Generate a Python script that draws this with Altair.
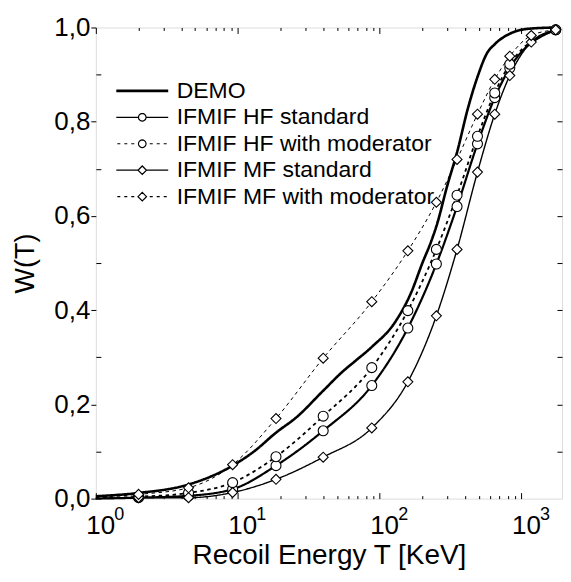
import math
import altair as alt
import pandas as pd

SERIES = ["DEMO", "IFMIF HF standard", "IFMIF HF with moderator",
          "IFMIF MF standard", "IFMIF MF with moderator"]

# DEMO curve (thick line, no markers)
DEMO_T = [1, 2, 4.5, 9.2, 13, 18.6, 26, 40, 55, 66, 88, 128, 167, 200, 230,
          251, 300, 351, 420, 489, 570, 650, 830, 1100, 1740]
DEMO_W = [0.005, 0.012, 0.030, 0.070, 0.100, 0.140, 0.173, 0.229, 0.270, 0.290,
          0.322, 0.374, 0.438, 0.500, 0.545, 0.578, 0.665, 0.735, 0.830, 0.895,
          0.945, 0.965, 0.987, 0.997, 1.000]

# start of the IFMIF curves at the left edge (no marker there)
T_START = 1.0
START_W = [0.000, 0.001, 0.000, 0.003]

# IFMIF curves, values at the marker positions
T_MARK = [2.0, 4.5, 9.2, 18.6, 40, 88, 158, 251, 351, 489, 647, 826, 1170, 1740]
HF_STD = [0.002, 0.006, 0.020, 0.070, 0.144, 0.240, 0.362, 0.498, 0.620, 0.753,
          0.851, 0.914, None, 0.995]
HF_MOD = [0.004, 0.012, 0.034, 0.089, 0.175, 0.278, 0.399, 0.529, 0.644, 0.769,
          0.861, 0.922, None, 0.995]
MF_STD = [0.002, 0.002, 0.013, 0.041, 0.088, 0.150, 0.248, 0.388, 0.529, 0.693,
          0.816, 0.898, 0.969, 0.995]
MF_MOD = [0.009, 0.023, 0.072, 0.170, 0.298, 0.418, 0.526, 0.629, 0.720, 0.816,
          0.890, 0.939, 0.983, 0.995]

X_MAJOR = [1, 10, 100, 1000]
X_MINOR = [k * 10 ** e for e in range(3) for k in range(2, 10)]
Y_MAJOR = [0.0, 0.2, 0.4, 0.6, 0.8, 1.0]
Y_MINOR = [0.1, 0.3, 0.5, 0.7, 0.9]
Y_ALL = [0.1, 0.2, 0.3, 0.4, 0.5, 0.6, 0.7, 0.8, 0.9]

FONT = "Liberation Sans"

rows = []
for t, w in zip(DEMO_T, DEMO_W):
    rows.append({"series": "DEMO", "T": t, "W": w, "marker": False})
for name, vals, w0 in zip(SERIES[1:], [HF_STD, HF_MOD, MF_STD, MF_MOD], START_W):
    rows.append({"series": name, "T": T_START, "W": w0, "marker": False})
    for t, w in zip(T_MARK, vals):
        if w is not None:
            rows.append({"series": name, "T": t, "W": w, "marker": True})
df = pd.DataFrame(rows)


# ---- legend symbols (line + marker) as custom SVG paths, unit = sqrt(size)/2 px
def f(v):
    return f"{v:.3f}"


def poly_circle(cx, r, n=20):
    pts = [(cx + r * math.cos(2 * math.pi * i / n), r * math.sin(2 * math.pi * i / n)) for i in range(n)]
    return "M" + "L".join(f"{f(x)},{f(y)}" for x, y in pts) + "Z"


def diamond(cx, r):
    return f"M{f(cx - r)},0L{f(cx)},{f(-r)}L{f(cx + r)},0L{f(cx)},{f(r)}Z"


CX, X0, X1 = 4.2, -1.0, 9.4
RC, RD = 0.76, 0.85


def solid(gap):
    return f"M{f(X0)},0L{f(CX - gap)},0M{f(CX + gap)},0L{f(X1)},0"


def dashed():
    segs = [(-0.8, -0.2), (0.6, 1.2), (2.0, 2.6), (5.7, 6.3), (7.1, 7.7), (8.5, 9.1)]
    return "".join(f"M{f(a)},0L{f(b)},0" for a, b in segs)


LEGEND_PATHS = [
    f"M{f(X0)},-0.15L{f(X1)},-0.15M{f(X0)},0L{f(X1)},0M{f(X0)},0.15L{f(X1)},0.15",
    solid(RC) + poly_circle(CX, RC),
    dashed() + poly_circle(CX, RC),
    solid(RD) + diamond(CX, RD),
    dashed() + diamond(CX, RD),
]

X_SCALE = alt.Scale(type="log", domain=[1, 1927], nice=False)
Y_SCALE = alt.Scale(domain=[0, 1], nice=False, zero=False)


def tick_axis(orient, values, size):
    return alt.Axis(orient=orient, values=values, tickSize=size, offset=-size,
                    labels=False, domain=False, grid=False, title=None,
                    ticks=True, tickColor="black", tickWidth=1)


x_main = alt.Axis(
    orient="bottom", values=X_MAJOR, labelExpr="'10'",
    labelFont=FONT, labelFontSize=26, labelColor="black", labelPadding=14,
    labelAlign="left", labelOffset=-10, labelBaseline="top",
    labelFlush=False, labelOverlap=False, ticks=True, tickSize=0,
    domain=False, grid=False,
    title="Recoil Energy T [KeV]", titleFont=FONT, titleFontSize=28,
    titleFontWeight="normal", titleColor="black", titlePadding=3,
)
x_sup = alt.Axis(
    orient="bottom", values=X_MAJOR,
    labelExpr="datum.value == 1 ? '0' : datum.value == 10 ? '1' : datum.value == 100 ? '2' : '3'",
    labelFont=FONT, labelFontSize=18, labelColor="black", labelPadding=7,
    labelAlign="left", labelOffset=18, labelBaseline="top",
    labelFlush=False, labelOverlap=False, ticks=True, tickSize=0,
    domain=False, grid=False, title=None,
)
y_main = alt.Axis(
    orient="left", values=Y_MAJOR,
    labelExpr="replace(format(datum.value, '.1f'), '.', ',')",
    labelFont=FONT, labelFontSize=26, labelColor="black", labelPadding=1,
    ticks=True, tickSize=5, tickColor="black", tickWidth=1,
    domain=False, grid=False,
    title="W(T)", titleFont=FONT, titleFontSize=27, titleFontWeight="normal",
    titleColor="black", titlePadding=14,
)

lines = alt.Chart(df).mark_line(interpolate="monotone", color="black").encode(
    x=alt.X("T:Q", scale=X_SCALE, axis=x_main),
    y=alt.Y("W:Q", scale=Y_SCALE, axis=y_main),
    detail="series:N",
    strokeDash=alt.StrokeDash("series:N", legend=None, scale=alt.Scale(
        domain=SERIES, range=[[1, 0], [1, 0], [3.5, 3.5], [1, 0], [3.5, 3.5]])),
    strokeWidth=alt.StrokeWidth("series:N", legend=None, scale=alt.Scale(
        domain=SERIES, range=[2.6, 1.0, 1.0, 1.0, 1.0])),
)

points = alt.Chart(df).transform_filter("datum.marker").mark_point(
    filled=True, fill="white", stroke="black", strokeWidth=1.1, opacity=1
).encode(
    x=alt.X("T:Q", scale=X_SCALE, axis=tick_axis("bottom", X_MINOR, 3)),
    y=alt.Y("W:Q", scale=Y_SCALE, axis=tick_axis("left", Y_MINOR, 5)),
    shape=alt.Shape("series:N", legend=None, scale=alt.Scale(
        domain=SERIES[1:], range=["circle", "circle", "diamond", "diamond"])),
    size=alt.Size("series:N", legend=None, scale=alt.Scale(
        domain=SERIES[1:], range=[100, 100, 130, 130])),
)

legend_layer = alt.Chart(df).transform_filter("false").mark_point(
    filled=False, color="black", strokeWidth=1.2
).encode(
    x=alt.X("T:Q", scale=X_SCALE, axis=tick_axis("bottom", X_MAJOR, 6)),
    y=alt.Y("W:Q", scale=Y_SCALE, axis=tick_axis("right", Y_ALL, 5)),
    shape=alt.Shape("series:N", scale=alt.Scale(domain=SERIES, range=LEGEND_PATHS),
                    legend=alt.Legend(
                        title=None, orient="none", legendX=14, legendY=52,
                        labelFont=FONT, labelFontSize=23, labelColor="black",
                        labelOffset=44, labelLimit=400, rowPadding=2.5, padding=0,
                        symbolSize=100, symbolStrokeWidth=1.2,
                        symbolStrokeColor="black", symbolOpacity=1)),
)

top_major = alt.Chart(df).transform_filter("false").mark_point().encode(
    x=alt.X("T:Q", scale=X_SCALE, axis=tick_axis("top", X_MAJOR, 6)),
    y=alt.Y("W:Q", scale=Y_SCALE, axis=None),
)
top_minor = alt.Chart(df).transform_filter("false").mark_point().encode(
    x=alt.X("T:Q", scale=X_SCALE, axis=tick_axis("top", X_MINOR, 3)),
    y=alt.Y("W:Q", scale=Y_SCALE, axis=None),
)
sup_layer = alt.Chart(df).transform_filter("false").mark_point().encode(
    x=alt.X("T:Q", scale=X_SCALE, axis=x_sup),
    y=alt.Y("W:Q", scale=Y_SCALE, axis=None),
)

chart = alt.layer(lines, points, legend_layer, top_major, top_minor, sup_layer).resolve_scale(
    shape="independent"
).resolve_axis(
    x="independent", y="independent"
).properties(
    width=467, height=472,
    padding={"left": 3, "top": 6, "right": 0, "bottom": 0},
).configure_view(
    stroke="black", strokeWidth=1.2
).configure(font=FONT)

chart.save("out.html", embed_options={"renderer": "svg", "actions": False})
